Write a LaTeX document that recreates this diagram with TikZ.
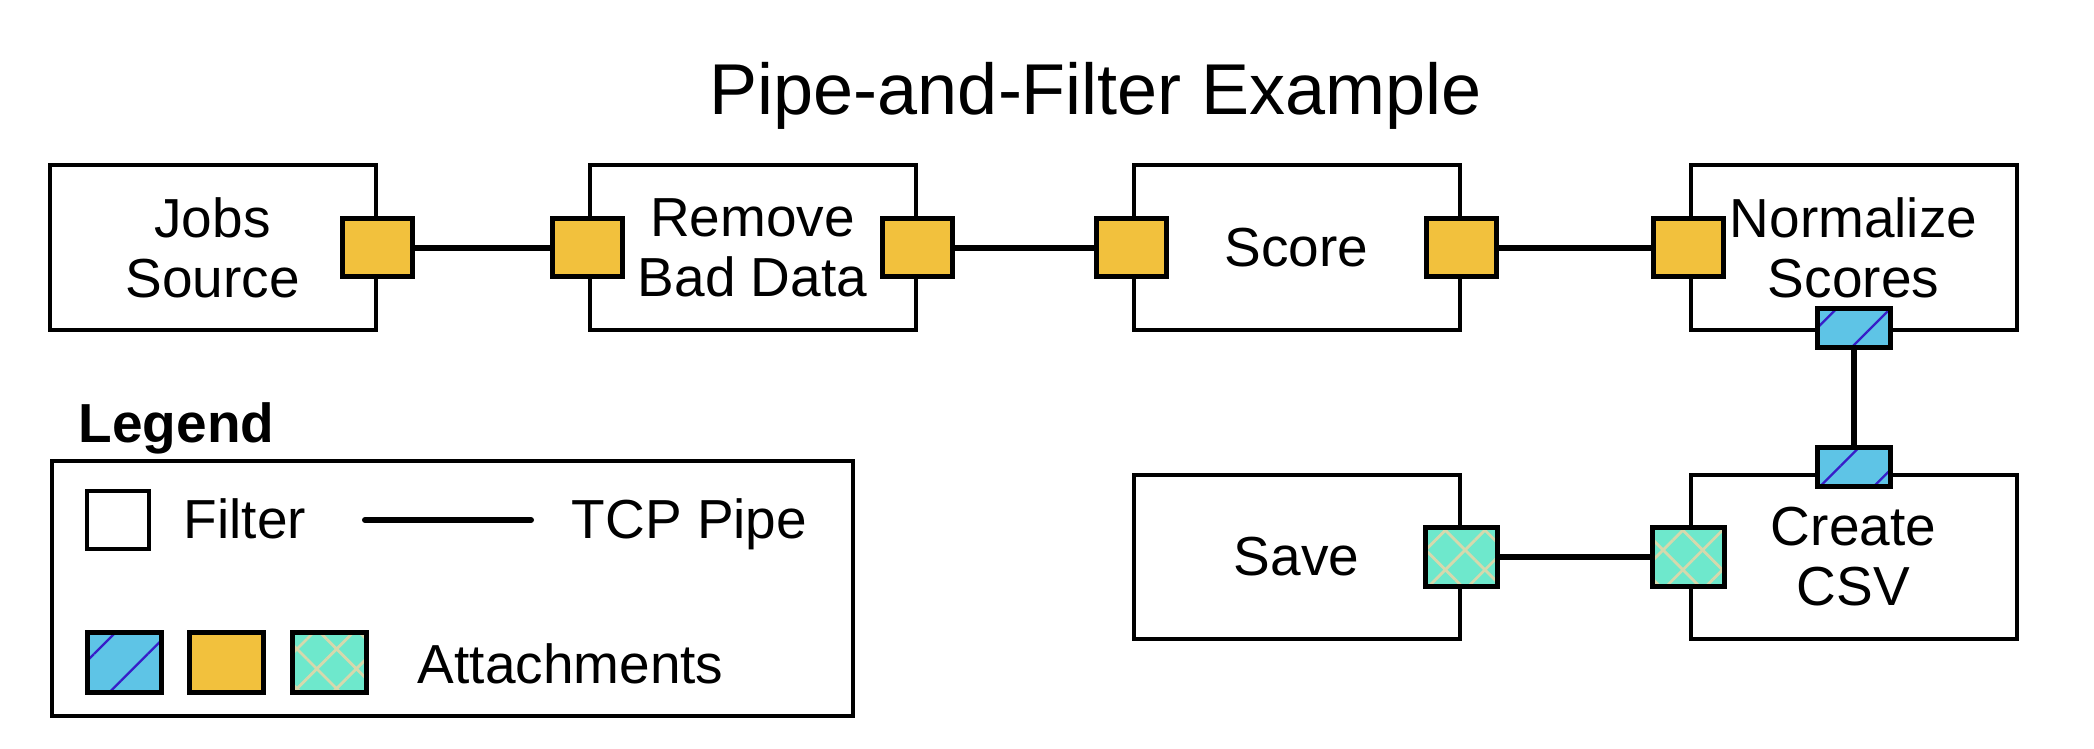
\documentclass[tikz,border=0pt]{standalone}
\usepackage{fontspec}
\setmainfont{Liberation Sans}
\usepackage{tikz}
\usetikzlibrary{positioning,patterns.meta}

\definecolor{portorange}{RGB}{242,193,61}
\definecolor{portblue}{RGB}{94,196,230}
\definecolor{portgreen}{RGB}{110,232,204}
\definecolor{hatchblue}{RGB}{55,30,200}
\definecolor{hatchbeige}{RGB}{214,216,172}

\begin{document}
\begin{tikzpicture}[
	x=0.25pt, y=-0.25pt,
	every node/.style={font=\fontsize{13.75pt}{15pt}\selectfont},
	filter/.style={rectangle, draw=black, fill=white, line width=1pt, minimum width=81.5pt, minimum height=41pt, align=center, inner sep=0pt},
	orangeport/.style={rectangle, draw=black, fill=portorange, line width=1.25pt, minimum width=17.5pt, minimum height=14.5pt, inner sep=0pt},
	blueport/.style={rectangle, draw=black, line width=1.25pt, preaction={fill=portblue}, pattern={Lines[angle=45,distance=9.5pt,line width=0.6pt]}, pattern color=hatchblue, minimum width=18.25pt, minimum height=9.75pt, inner sep=0pt},
	greenport/.style={rectangle, draw=black, line width=1.25pt, preaction={fill=portgreen}, pattern={Hatch[angle=45,distance=7pt,line width=0.7pt]}, pattern color=hatchbeige, minimum width=18pt, minimum height=14.75pt, inner sep=0pt},
	keytext/.style={anchor=base west, inner sep=0pt},
	pipe/.style={line width=1.5pt},
	]
	\useasboundingbox (0,0) rectangle (2094,748);
	
	%Title
	\node[font=\fontsize{18pt}{20pt}\selectfont, anchor=base, inner sep=0pt] (Title) at (1096,115) {Pipe-and-Filter Example};
	
	%Filters
	\node[filter] (Jobs) at (212.5,247.5) {Jobs\\Source};
	\node[filter] (Remove) [right=52.5pt of Jobs] {Remove\\Bad Data};
	\node[filter] (Score) [right=53.5pt of Remove] {Score};
	\node[filter] (Normalize) [right=56.75pt of Score] {Normalize\\Scores};
	\node[filter] (Create) [below=35.25pt of Normalize] {Create\\CSV};
	\node[filter] (Save) [below=35.25pt of Score] {Save};
	
	%Attachments
	\node[orangeport] (JobsOut) at (Jobs.east) {};
	\node[orangeport] (RemoveIn) at (Remove.west) {};
	\node[orangeport] (RemoveOut) at (Remove.east) {};
	\node[orangeport] (ScoreIn) at (Score.west) {};
	\node[orangeport] (ScoreOut) at (Score.east) {};
	\node[orangeport] (NormalizeIn) at (Normalize.west) {};
	\node[blueport] (NormalizeOut) at ([yshift=1pt]Normalize.south) {};
	\node[blueport] (CreateIn) at ([yshift=1.5pt]Create.north) {};
	\node[greenport] (CreateOut) at (Create.west) {};
	\node[greenport] (SaveIn) at (Save.east) {};
	
	%Pipes
	\draw[pipe] (JobsOut) -- (RemoveIn);
	\draw[pipe] (RemoveOut) -- (ScoreIn);
	\draw[pipe] (ScoreOut) -- (NormalizeIn);
	\draw[pipe] (NormalizeOut) -- (CreateIn);
	\draw[pipe] (CreateOut) -- (SaveIn);
	
	%Legend
	\node[keytext] (LegendTitle) at (78,442) {\bfseries Legend};
	\node[rectangle, draw=black, line width=1pt, minimum width=200.25pt, minimum height=63.75pt, anchor=north west, inner sep=0pt] (LegendBox) at (49.5,458.5) {};
	\node[filter, minimum width=15.5pt, minimum height=14.5pt] (FilterKey) at (118,520) {};
	\node[keytext] (FilterText) at (183,538) {Filter};
	\coordinate (PipeStart) at (365,520);
	\coordinate (PipeEnd) at (531,520);
	\draw[pipe, line cap=round] (PipeStart) -- (PipeEnd);
	\node[keytext] (PipeText) at (571,538) {TCP Pipe};
	\node[blueport, minimum width=18.5pt, minimum height=15pt] (BlueKey) at (124,662) {};
	\node[orangeport, minimum width=18.5pt, minimum height=15pt] (OrangeKey) at (226.5,662) {};
	\node[greenport, minimum width=18.5pt, minimum height=15pt] (GreenKey) at (329,662) {};
	\node[keytext] (AttachText) at (417,683) {Attachments};
	
\end{tikzpicture}
\end{document}
